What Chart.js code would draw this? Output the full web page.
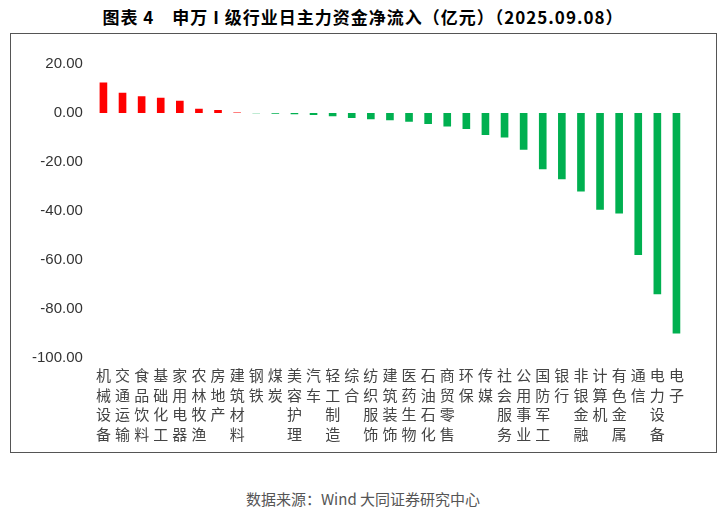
<!DOCTYPE html>
<html><head><meta charset="utf-8">
<script src="https://cdn.jsdelivr.net/npm/chart.js@4/dist/chart.umd.min.js"></script>
<style>
body{margin:0;width:726px;height:518px;background:#fff;font-family:"Noto Sans CJK SC";position:relative}
#title{position:absolute;left:0;top:4px;width:726px;text-align:center;font-size:17px;font-weight:bold;letter-spacing:1px}
#box{position:absolute;left:10px;top:33px;width:705px;height:418px;border:1px solid #555}
#src{position:absolute;left:0;top:488px;width:726px;text-align:center;font-size:15px;color:#555}
</style></head><body>
<div id="title">图表 4　申万 I 级行业日主力资金净流入（亿元）（2025.09.08）</div>
<div id="box"><canvas id="c" width="705" height="418"></canvas></div>
<div id="src">数据来源：Wind 大同证券研究中心</div>
<script>
const categories = ['机械设备','交通运输','食品饮料','基础化工','家用电器','农林牧渔','房地产','建筑材料','钢铁','煤炭','美容护理','汽车','轻工制造','综合','纺织服饰','建筑装饰','医药生物','石油石化','商贸零售','环保','传媒','社会服务','公用事业','国防军工','银行','非银金融','计算机','有色金属','通信','电力设备','电子'];
const netInflow = [12.5,8.3,6.8,6.2,5.0,1.7,1.2,0.2,-0.1,-0.3,-0.5,-0.8,-1.3,-2.0,-2.6,-3.0,-3.6,-4.5,-5.5,-6.5,-9.0,-10.0,-15.0,-23.0,-27.0,-32.0,-39.5,-41.0,-58.0,-74.0,-90.0];
new Chart(document.getElementById('c'), {
  type: 'bar',
  data: {
    labels: categories.map(s => s.split('')),
    datasets: [{
      data: netInflow,
      backgroundColor: netInflow.map(v => v >= 0 ? '#FF0000' : '#00B050'),
      barPercentage: 0.4, categoryPercentage: 1
    }]
  },
  options: {
    responsive: false, animation: false,
    layout: {padding: {left: 18, right: 30, top: 30, bottom: 0}},
    plugins: {legend: {display: false}, tooltip: {enabled: false}},
    scales: {
      x: {
        grid: {display: false, drawTicks: false}, border: {display: false},
        ticks: {autoSkip: false, maxRotation: 0, color: '#444', font: {size: 15, family: 'Noto Sans CJK SC', lineHeight: 1.3}, padding: 8}
      },
      y: {
        min: -100, max: 20,
        grid: {display: false}, border: {display: false},
        ticks: {stepSize: 20, color: '#333', font: {size: 15}, callback: v => v.toFixed(2)}
      }
    }
  }
});
</script>
</body></html>
